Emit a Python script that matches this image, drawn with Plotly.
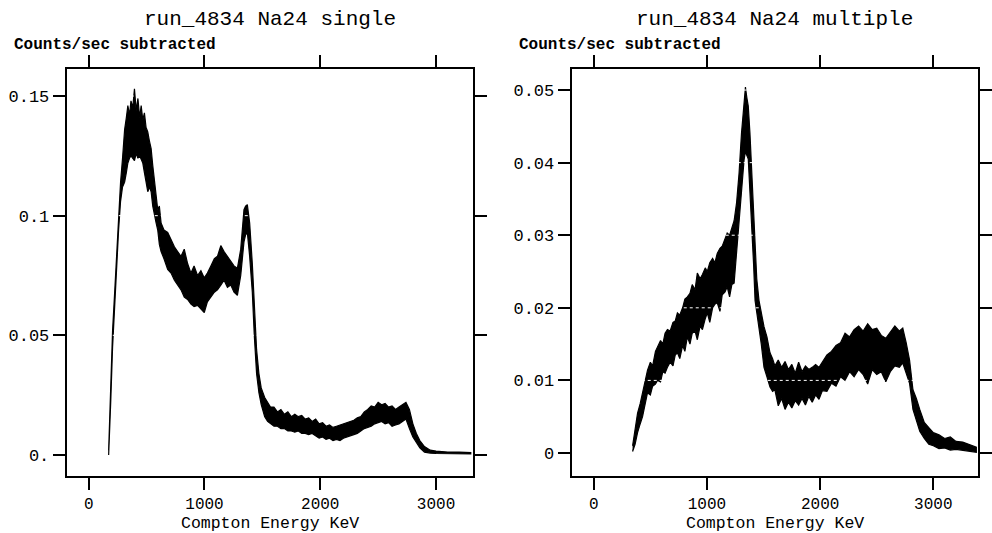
import plotly.graph_objects as go

# ---------------- data ----------------
single_energy = [172, 180, 190, 206, 224, 240, 258, 275, 292, 310, 325, 338, 352, 365, 380, 395, 410, 425, 440, 453,
                 467, 481, 495, 510, 525, 539, 553, 567, 582, 596, 610, 625, 650, 682, 711, 740, 768, 797, 825, 854,
                 883, 910, 940, 969, 998, 1025, 1055, 1085, 1112, 1141, 1169, 1198, 1227, 1255, 1284, 1313, 1341, 1355,
                 1370, 1390, 1413, 1430, 1450, 1470, 1490, 1520, 1545, 1570, 1600, 1630, 1660, 1690, 1720, 1750, 1780,
                 1810, 1840, 1870, 1900, 1930, 1960, 1990, 2020, 2050, 2080, 2110, 2140, 2170, 2200, 2230, 2260, 2290,
                 2320, 2350, 2380, 2410, 2440, 2470, 2500, 2530, 2560, 2590, 2620, 2650, 2680, 2710, 2740, 2770, 2800,
                 2830, 2860, 2900, 2950, 3000, 3100, 3200, 3300]
single_low = [0.000, 0.008, 0.022, 0.045, 0.060, 0.076, 0.094, 0.106, 0.112, 0.114, 0.118, 0.122, 0.124, 0.125, 0.124,
              0.123, 0.126, 0.124, 0.125, 0.124, 0.122, 0.118, 0.115, 0.110, 0.112, 0.110, 0.104, 0.100, 0.097, 0.094,
              0.088, 0.085, 0.082, 0.0775, 0.076, 0.073, 0.071, 0.069, 0.066, 0.065, 0.063, 0.062, 0.0625, 0.061,
              0.0595, 0.064, 0.066, 0.068, 0.069, 0.071, 0.073, 0.070, 0.071, 0.068, 0.0667, 0.075, 0.089, 0.092,
              0.093, 0.083, 0.068, 0.050, 0.034, 0.026, 0.021, 0.016, 0.014, 0.013, 0.012, 0.012, 0.011, 0.011, 0.010,
              0.010, 0.0095, 0.010, 0.009, 0.009, 0.0085, 0.009, 0.008, 0.007, 0.0075, 0.0065, 0.007, 0.006, 0.0065,
              0.006, 0.007, 0.0075, 0.008, 0.0085, 0.009, 0.010, 0.011, 0.0115, 0.012, 0.013, 0.0135, 0.014, 0.013,
              0.0135, 0.012, 0.0125, 0.013, 0.014, 0.015, 0.011, 0.0075, 0.005, 0.003, 0.0012, 0.0008, 0.0006, 0.0005,
              0.0004, 0.0004]
single_high = [0.002, 0.014, 0.030, 0.052, 0.068, 0.084, 0.102, 0.114, 0.124, 0.136, 0.141, 0.146, 0.142, 0.148, 0.145,
               0.153, 0.144, 0.149, 0.141, 0.146, 0.140, 0.143, 0.137, 0.135, 0.131, 0.128, 0.121, 0.114, 0.109, 0.1025,
               0.104, 0.097, 0.094, 0.093, 0.090, 0.087, 0.085, 0.083, 0.086, 0.080, 0.076, 0.079, 0.075, 0.077, 0.074,
               0.076, 0.079, 0.082, 0.083, 0.0875, 0.085, 0.083, 0.081, 0.079, 0.078, 0.086, 0.1025, 0.104, 0.1046,
               0.097, 0.080, 0.060, 0.044, 0.034, 0.028, 0.024, 0.022, 0.020, 0.020, 0.018, 0.019, 0.017, 0.018, 0.016,
               0.017, 0.016, 0.0165, 0.015, 0.0155, 0.014, 0.015, 0.013, 0.0135, 0.012, 0.0125, 0.0115, 0.012, 0.0125,
               0.013, 0.0135, 0.014, 0.0145, 0.0155, 0.016, 0.018, 0.019, 0.0205, 0.020, 0.022, 0.021, 0.0215, 0.020,
               0.0205, 0.019, 0.020, 0.021, 0.022, 0.019, 0.013, 0.009, 0.006, 0.0035, 0.002, 0.0016, 0.0012, 0.0012,
               0.0010]

multi_energy = [343, 365, 387, 410, 431, 452, 475, 500, 520, 545, 563, 590, 610, 630, 651, 675, 700, 720, 739, 760,
                785, 805, 827, 850, 870, 895, 915, 940, 960, 985, 1003, 1025, 1050, 1070, 1091, 1115, 1135, 1160, 1179,
                1200, 1220, 1240, 1262, 1284, 1305, 1328, 1340, 1352, 1365, 1380, 1398, 1412, 1425, 1440, 1460, 1480,
                1504, 1530, 1557, 1580, 1600, 1630, 1660, 1690, 1720, 1750, 1780, 1810, 1840, 1870, 1900, 1930, 1960,
                1990, 2020, 2060, 2100, 2140, 2180, 2220, 2260, 2300, 2340, 2380, 2420, 2460, 2500, 2540, 2580, 2620,
                2660, 2700, 2730, 2760, 2790, 2820, 2850, 2880, 2920, 2960, 3000, 3050, 3100, 3150, 3200, 3260, 3320,
                3380]
multi_low = [0.0002, 0.0012, 0.0028, 0.0040, 0.0050, 0.0065, 0.0083, 0.0080, 0.0092, 0.0095, 0.0100, 0.0098, 0.0112,
             0.0110, 0.0118, 0.0125, 0.0120, 0.0135, 0.0138, 0.0130, 0.0148, 0.0140, 0.0160, 0.0150, 0.0165, 0.0168,
             0.0156, 0.0175, 0.0170, 0.0185, 0.0193, 0.0180, 0.0200, 0.0205, 0.0207, 0.0195, 0.0218, 0.0222, 0.0229,
             0.0215, 0.0232, 0.0234, 0.0270, 0.0307, 0.0360, 0.0404, 0.0415, 0.0410, 0.0405, 0.0360, 0.0303, 0.0260,
             0.0210, 0.0195, 0.0174, 0.0150, 0.0118, 0.0105, 0.0091, 0.0085, 0.0087, 0.0065, 0.0075, 0.0060, 0.0070,
             0.0062, 0.0072, 0.0066, 0.0075, 0.0066, 0.0078, 0.0070, 0.0080, 0.0074, 0.0086, 0.0085, 0.0096, 0.0092,
             0.0105, 0.0100, 0.0112, 0.0105, 0.0115, 0.0108, 0.0095, 0.0115, 0.0108, 0.0112, 0.0098, 0.0112, 0.0120,
             0.0118, 0.0124, 0.0110, 0.0096, 0.0060, 0.0045, 0.0030, 0.0020, 0.0012, 0.0010, 0.0006, 0.0007, 0.0004,
             0.0005, 0.0003, 0.0002, 0.0001]
multi_high = [0.0010, 0.0030, 0.0055, 0.0068, 0.0083, 0.0100, 0.0114, 0.0125, 0.0120, 0.0140, 0.0146, 0.0155, 0.0150,
              0.0165, 0.0170, 0.0168, 0.0180, 0.0182, 0.0193, 0.0190, 0.0200, 0.0212, 0.0215, 0.0220, 0.0232, 0.0225,
              0.0248, 0.0240, 0.0246, 0.0255, 0.0250, 0.0262, 0.0268, 0.0262, 0.0275, 0.0282, 0.0285, 0.0295, 0.0303,
              0.0300, 0.0312, 0.0320, 0.0345, 0.0386, 0.0440, 0.0480, 0.0504, 0.0490, 0.0478, 0.0440, 0.0386, 0.0340,
              0.0293, 0.0240, 0.0210, 0.0195, 0.0174, 0.0160, 0.0138, 0.0130, 0.0120, 0.0128, 0.0118, 0.0126, 0.0115,
              0.0122, 0.0110, 0.0125, 0.0112, 0.0120, 0.0115, 0.0118, 0.0122, 0.0118, 0.0125, 0.0135, 0.0140, 0.0148,
              0.0152, 0.0165, 0.0160, 0.0170, 0.0175, 0.0168, 0.0178, 0.0170, 0.0172, 0.0162, 0.0158, 0.0166, 0.0175,
              0.0168, 0.0172, 0.0152, 0.0128, 0.0087, 0.0075, 0.0060, 0.0042, 0.0035, 0.0028, 0.0025, 0.0020, 0.0022,
              0.0016, 0.0015, 0.0011, 0.0008]

x_ticks = [0, 1000, 2000, 3000]
x_tick_labels = ["0", "1000", "2000", "3000"]
single_y_ticks = [0, 0.05, 0.1, 0.15]
single_y_labels = ["0.", "0.05", "0.1", "0.15"]
multi_y_ticks = [0, 0.01, 0.02, 0.03, 0.04, 0.05]
multi_y_labels = ["0", "0.01", "0.02", "0.03", "0.04", "0.05"]

titles = ["run_4834 Na24 single", "run_4834 Na24 multiple"]
y_title = "Counts/sec subtracted"
x_title = "Compton Energy KeV"

FONT = "Liberation Mono, Courier New, monospace"

fig = go.Figure()


def band(xs, lo, hi, xa, ya):
    fig.add_trace(go.Scatter(
        x=list(xs) + list(xs)[::-1],
        y=list(hi) + list(lo)[::-1],
        fill="toself", fillcolor="black", mode="lines",
        line=dict(color="black", width=1.2),
        xaxis=xa, yaxis=ya, showlegend=False, hoverinfo="skip"))


band(single_energy, single_low, single_high, "x", "y")
band(multi_energy, multi_low, multi_high, "x2", "y2")

W, H = 992, 533
dom1 = [67 / W, 475 / W]
dom2 = [574 / W, 982 / W]
ydom = [1 - 476 / H, 1 - 69 / H]

axis_common = dict(showgrid=False, zeroline=False, showline=True, linecolor="black", linewidth=2,
                   mirror="allticks", ticks="outside", ticklen=12, tickwidth=1.5, tickcolor="black")
xfont = dict(family=FONT, size=16, color="black")
yfont = dict(family=FONT, size=17, color="black")

fig.update_layout(
    width=W, height=H, margin=dict(l=0, r=0, t=0, b=0),
    paper_bgcolor="white", plot_bgcolor="white",
    xaxis=dict(domain=dom1, range=[-190, 3320], tickvals=x_ticks, ticktext=x_tick_labels, anchor="y",
               tickfont=xfont, **axis_common),
    yaxis=dict(domain=ydom, range=[-0.0088, 0.1613], tickvals=single_y_ticks, ticktext=single_y_labels,
               anchor="x", tickfont=yfont, **axis_common),
    xaxis2=dict(domain=dom2, range=[-195, 3395], tickvals=x_ticks, ticktext=x_tick_labels, anchor="y2",
                tickfont=xfont, **axis_common),
    yaxis2=dict(domain=ydom, range=[-0.00317, 0.0529], tickvals=multi_y_ticks, ticktext=multi_y_labels,
                anchor="x2", tickfont=yfont, **axis_common),
)

# white dotted lines drawn over the data, at the y tick levels
for ticks, xref, yref in [(single_y_ticks, "x domain", "y"), (multi_y_ticks, "x2 domain", "y2")]:
    for t in ticks[1:]:
        fig.add_shape(type="line", xref=xref, yref=yref, x0=0.01, x1=0.99, y0=t, y1=t,
                      line=dict(color="white", width=1, dash="dot"), layer="above")

for i, dom in enumerate([dom1, dom2]):
    cx = (dom[0] + dom[1]) / 2
    fig.add_annotation(text=titles[i], x=cx, y=1 - 20 / H, xref="paper", yref="paper",
                       showarrow=False, xanchor="center", yanchor="middle",
                       font=dict(family=FONT, size=21, color="black"))
    fig.add_annotation(text=x_title, x=cx, y=1 - 523 / H, xref="paper", yref="paper",
                       showarrow=False, xanchor="center", yanchor="middle",
                       font=dict(family=FONT, size=16.5, color="black"))
    fig.add_annotation(text="<b>" + y_title + "</b>", x=(dom[0] * W - 55) / W, y=1 - 45 / H,
                       xref="paper", yref="paper", showarrow=False, xanchor="left", yanchor="middle",
                       font=dict(family=FONT, size=16, color="black"))

fig.write_html("out.html")
